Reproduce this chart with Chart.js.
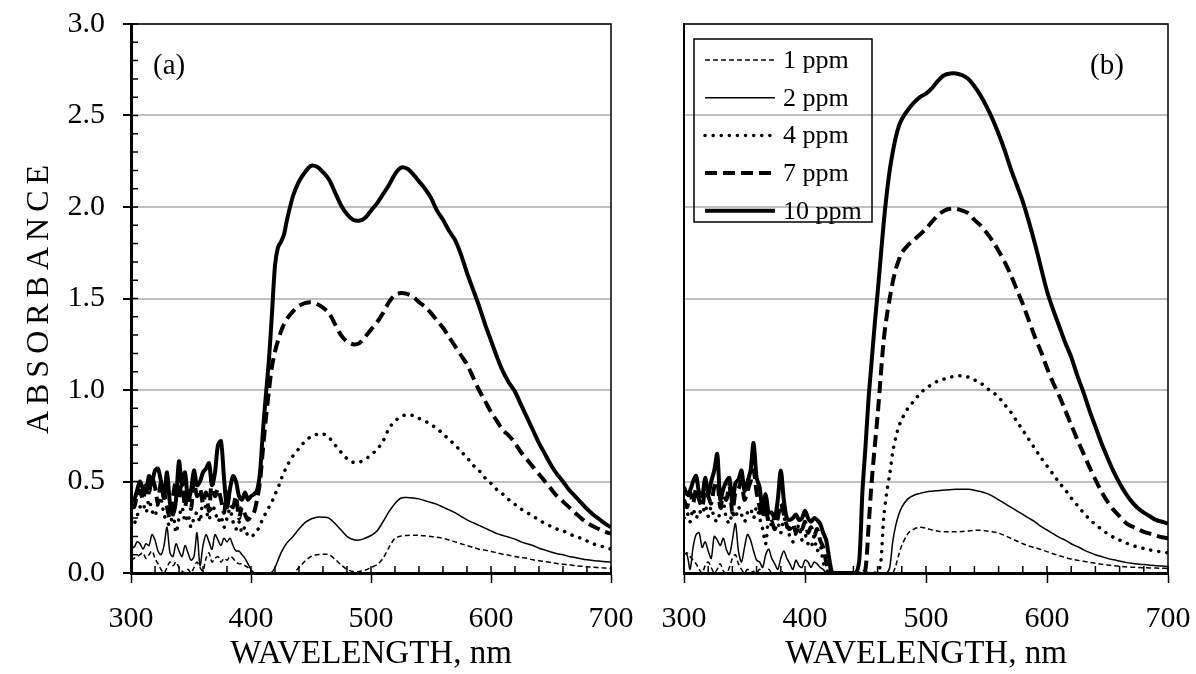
<!DOCTYPE html>
<html>
<head>
<meta charset="utf-8">
<script src="https://cdn.jsdelivr.net/npm/chart.js@4.4.1/dist/chart.umd.min.js"></script>
<style>
  html, body { margin: 0; padding: 0; background: #fff; }
  #wrap { position: relative; width: 1196px; height: 674px; }
  canvas { position: absolute; top: 0; }
  #chartA { left: 0; }
  #chartB { left: 640px; }
</style>
</head>
<body>
<div id="wrap">
  <canvas id="chartA" width="640" height="674"></canvas>
  <canvas id="chartB" width="556" height="674"></canvas>
</div>
<script>
(function(){
  'use strict';

  function range(a, b, step) {
    var out = [];
    for (var v = a; v <= b + 1e-9; v += step) out.push(+v.toFixed(1));
    return out;
  }

  var seriesLabels = ['1 ppm', '2 ppm', '4 ppm', '7 ppm', '10 ppm'];
  var xTicks = [300, 400, 500, 600, 700];
  var yTicks = [0, 0.5, 1.0, 1.5, 2.0, 2.5, 3.0];
  var xMinorStep = 20;
  var yMinorStep = 0.1;

  // panel (a): 300-430 nm every 2.5 nm, then every 5 nm
  var wlA = range(300, 430, 2.5).concat(range(435, 700, 5));

  var a1 = [
    0.07, 0.08, 0.09, 0.10, 0.11, 0.08, 0.10, 0.12, 0.08, 0.05, 0.02, 0,
    0.03, 0.06, 0.04, 0.06, 0.03, 0.01, 0, 0.02, 0, 0.03, 0.06, 0.03,
    0.01, 0.08, 0.11, 0.06, 0.08, 0.09, 0.06, 0.08, 0.07, 0.09, 0.08, 0.06,
    0.05, 0.05, 0.04, 0.03, 0.01, 0, 0, 0, 0, 0, 0, 0,
    0, 0, 0, 0, 0,
    0, 0.03, 0.065, 0.09, 0.10, 0.102, 0.10, 0.075, 0.045, 0.02,
    0.008, 0.008, 0.015, 0.03, 0.045, 0.08, 0.14, 0.19, 0.202, 0.205,
    0.206, 0.206, 0.203, 0.20, 0.195, 0.19, 0.18, 0.17, 0.16, 0.15,
    0.14, 0.13, 0.125, 0.118, 0.11, 0.103, 0.097, 0.09, 0.085, 0.08,
    0.072, 0.067, 0.062, 0.057, 0.052, 0.048, 0.045, 0.04, 0.037, 0.034,
    0.031, 0.029, 0.027, 0.025
  ];
  var a2 = [
    0.15, 0.14, 0.17, 0.16, 0.13, 0.16, 0.15, 0.21, 0.18, 0.12, 0.10, 0.15,
    0.25, 0.11, 0.09, 0.16, 0.12, 0.09, 0.15, 0.11, 0.07, 0.09, 0.22, 0.04,
    0.15, 0.21, 0.17, 0.13, 0.21, 0.18, 0.15, 0.19, 0.17, 0.19, 0.15, 0.12,
    0.12, 0.10, 0.08, 0.05, 0.02, 0, 0, 0, 0, 0, 0, 0.005,
    0.03, 0.07, 0.11, 0.14, 0.165,
    0.20, 0.24, 0.275, 0.295, 0.305, 0.305, 0.30, 0.27, 0.235, 0.20,
    0.183, 0.18, 0.19, 0.205, 0.23, 0.28, 0.335, 0.38, 0.41, 0.412,
    0.41, 0.405, 0.395, 0.385, 0.375, 0.36, 0.345, 0.33, 0.31, 0.29,
    0.275, 0.26, 0.245, 0.23, 0.215, 0.205, 0.195, 0.185, 0.17, 0.16,
    0.15, 0.135, 0.125, 0.115, 0.105, 0.10, 0.09, 0.085, 0.078, 0.072,
    0.068, 0.065, 0.062, 0.06
  ];
  var a4 = [
    0.30, 0.27, 0.31, 0.36, 0.38, 0.33, 0.40, 0.34, 0.31, 0.38, 0.40, 0.32,
    0.28, 0.26, 0.33, 0.22, 0.30, 0.36, 0.28, 0.32, 0.25, 0.30, 0.33, 0.28,
    0.40, 0.35, 0.29, 0.37, 0.34, 0.28, 0.31, 0.25, 0.30, 0.35, 0.28, 0.24,
    0.28, 0.22, 0.25, 0.20, 0.20, 0.21, 0.23, 0.26, 0.30, 0.33, 0.36, 0.39,
    0.43, 0.465, 0.51, 0.55, 0.585,
    0.64, 0.68, 0.72, 0.745, 0.758, 0.76, 0.74, 0.70, 0.66, 0.625,
    0.605, 0.605, 0.62, 0.645, 0.675, 0.72, 0.79, 0.83, 0.855, 0.865,
    0.86, 0.845, 0.83, 0.81, 0.79, 0.76, 0.73, 0.70, 0.665, 0.63,
    0.59, 0.56, 0.52, 0.49, 0.455, 0.43, 0.40, 0.375, 0.35, 0.33,
    0.31, 0.29, 0.27, 0.255, 0.24, 0.23, 0.215, 0.20, 0.19, 0.175,
    0.16, 0.15, 0.14, 0.13
  ];
  var a7 = [
    0.38, 0.36, 0.42, 0.45, 0.40, 0.48, 0.44, 0.52, 0.47, 0.38, 0.50, 0.44,
    0.36, 0.30, 0.42, 0.50, 0.40, 0.53, 0.36, 0.46, 0.35, 0.50, 0.42, 0.46,
    0.38, 0.44, 0.34, 0.52, 0.42, 0.46, 0.40, 0.33, 0.44, 0.38, 0.36, 0.42,
    0.30, 0.36, 0.32, 0.29, 0.31, 0.33, 0.40, 0.50, 0.68, 0.85, 1.00, 1.13,
    1.21, 1.27, 1.32, 1.36, 1.39,
    1.43, 1.46, 1.475, 1.48, 1.47, 1.45, 1.42, 1.36, 1.30, 1.265,
    1.25, 1.255, 1.29, 1.33, 1.37, 1.42, 1.48, 1.52, 1.53, 1.525,
    1.51, 1.48, 1.455, 1.42, 1.38, 1.34, 1.29, 1.24, 1.19, 1.14,
    1.07, 1.00, 0.94, 0.88, 0.83, 0.78, 0.75, 0.71, 0.66, 0.62,
    0.58, 0.54, 0.50, 0.46, 0.42, 0.39, 0.36, 0.33, 0.30, 0.275,
    0.255, 0.24, 0.225, 0.215
  ];
  var a10 = [
    0.41, 0.40, 0.45, 0.50, 0.46, 0.44, 0.53, 0.50, 0.56, 0.57, 0.50, 0.41,
    0.55, 0.38, 0.32, 0.40, 0.61, 0.48, 0.55, 0.40, 0.45, 0.56, 0.48, 0.50,
    0.55, 0.57, 0.60, 0.48, 0.55, 0.70, 0.72, 0.52, 0.36, 0.46, 0.53, 0.50,
    0.42, 0.40, 0.44, 0.40, 0.42, 0.43, 0.45, 0.55, 0.78, 0.98, 1.17, 1.42,
    1.68, 1.78, 1.81, 1.85, 1.93,
    2.06, 2.14, 2.19, 2.225, 2.22, 2.19, 2.15, 2.08, 2.01, 1.96,
    1.93, 1.925, 1.94, 1.98, 2.02, 2.07, 2.12, 2.18, 2.215, 2.21,
    2.18, 2.14, 2.10, 2.05, 1.98, 1.93, 1.87, 1.82, 1.74, 1.64,
    1.55, 1.46, 1.36, 1.27, 1.18, 1.10, 1.04, 0.99, 0.92, 0.85,
    0.78, 0.71, 0.65, 0.59, 0.54, 0.50, 0.455, 0.42, 0.385, 0.35,
    0.32, 0.295, 0.27, 0.25
  ];

  // panel (b): 300-480 nm every 2.5 nm, then every 5 nm
  var wlB = range(300, 480, 2.5).concat(range(485, 700, 5));

  var b1 = [
    0.10, 0.11, 0.09, 0.07, 0.05, 0.02, 0, 0.04, 0.06, 0.03, 0, 0.02,
    0.05, 0.01, 0, 0.03, 0.08, 0.10, 0.05, 0.02, 0, 0.02, 0, 0.01,
    0, 0.02, 0, 0, 0.02, 0, 0, 0, 0.01, 0, 0, 0,
    0, 0, 0, 0, 0, 0, 0, 0, 0, 0, 0, 0,
    0, 0, 0, 0, 0, 0, 0, 0, 0, 0, 0, 0,
    0, 0, 0, 0, 0, 0, 0, 0, 0, 0, 0.04, 0.10, 0.15,
    0.215, 0.24, 0.25, 0.245, 0.235, 0.228, 0.225, 0.225, 0.225, 0.227,
    0.23, 0.233, 0.233, 0.23, 0.225, 0.218, 0.205, 0.19, 0.175, 0.16,
    0.148, 0.138, 0.128, 0.117, 0.105, 0.095, 0.085, 0.076, 0.07, 0.064,
    0.058, 0.053, 0.048, 0.044, 0.04, 0.037, 0.034, 0.032, 0.03, 0.029,
    0.028, 0.027, 0.026, 0.025
  ];
  var b2 = [
    0.11, 0.10, 0.02, 0.14, 0.21, 0.22, 0.14, 0.17, 0.12, 0.08, 0.20, 0.18,
    0.15, 0.19, 0.13, 0.10, 0.18, 0.27, 0.12, 0.06, 0.14, 0.21, 0.18, 0.12,
    0.07, 0.06, 0.03, 0.10, 0.13, 0.08, 0.05, 0.02, 0.08, 0.12, 0.08, 0.05,
    0.02, 0.07, 0.04, 0.03, 0.07, 0.06, 0.03, 0.06, 0.05, 0.03, 0.02, 0,
    0, 0, 0, 0, 0, 0, 0, 0, 0, 0, 0, 0,
    0, 0, 0, 0, 0, 0, 0, 0, 0.03, 0.17, 0.26, 0.32, 0.36,
    0.405, 0.425, 0.435, 0.443, 0.447, 0.45, 0.453, 0.455, 0.457, 0.458,
    0.457, 0.452, 0.445, 0.435, 0.42, 0.40, 0.38, 0.36, 0.34, 0.32,
    0.30, 0.28, 0.255, 0.235, 0.215, 0.195, 0.18, 0.16, 0.145, 0.128,
    0.113, 0.10, 0.09, 0.08, 0.072, 0.065, 0.058, 0.053, 0.049, 0.046,
    0.043, 0.04, 0.038, 0.036
  ];
  var b4 = [
    0.30, 0.33, 0.28, 0.35, 0.30, 0.34, 0.32, 0.37, 0.31, 0.36, 0.30, 0.28,
    0.34, 0.38, 0.30, 0.27, 0.33, 0.30, 0.36, 0.32, 0.28, 0.33, 0.35, 0.30,
    0.36, 0.30, 0.24, 0.16, 0.30, 0.26, 0.32, 0.28, 0.22, 0.30, 0.25, 0.20,
    0.17, 0.22, 0.26, 0.18, 0.21, 0.16, 0.14, 0.20, 0.12, 0.15, 0.06, 0.02,
    0, 0, 0, 0, 0, 0, 0, 0, 0, 0, 0, 0,
    0, 0, 0, 0, 0, 0.05, 0.30, 0.44, 0.54, 0.66, 0.74, 0.80, 0.84,
    0.90, 0.94, 0.98, 1.01, 1.03, 1.05, 1.06, 1.07, 1.075, 1.078,
    1.07, 1.055, 1.04, 1.01, 0.99, 0.96, 0.92, 0.88, 0.83, 0.78,
    0.73, 0.68, 0.63, 0.585, 0.54, 0.495, 0.455, 0.41, 0.37, 0.33,
    0.295, 0.265, 0.24, 0.215, 0.195, 0.18, 0.165, 0.152, 0.142, 0.134,
    0.126, 0.12, 0.114, 0.11
  ];
  var b7 = [
    0.40, 0.36, 0.44, 0.38, 0.46, 0.40, 0.36, 0.45, 0.42, 0.38, 0.47, 0.50,
    0.36, 0.42, 0.40, 0.48, 0.33, 0.44, 0.46, 0.50, 0.40, 0.45, 0.50, 0.56,
    0.44, 0.36, 0.30, 0.38, 0.27, 0.28, 0.24, 0.30, 0.38, 0.32, 0.26, 0.24,
    0.27, 0.22, 0.26, 0.24, 0.28, 0.22, 0.25, 0.20, 0.24, 0.18, 0.14, 0.06,
    0, 0, 0, 0, 0, 0, 0, 0, 0, 0, 0, 0,
    0.02, 0.25, 0.49, 0.68, 0.86, 1.07, 1.27, 1.40, 1.50, 1.59, 1.66, 1.71, 1.75,
    1.79, 1.82, 1.85, 1.88, 1.92, 1.955, 1.98, 1.99, 1.99, 1.98,
    1.965, 1.93, 1.90, 1.86, 1.815, 1.76, 1.70, 1.63, 1.55, 1.47,
    1.38, 1.29, 1.21, 1.12, 1.04, 0.97, 0.89, 0.81, 0.73, 0.655,
    0.58, 0.51, 0.445, 0.39, 0.345, 0.31, 0.275, 0.255, 0.24, 0.225,
    0.215, 0.205, 0.195, 0.19
  ];
  var b10 = [
    0.47, 0.43, 0.45, 0.50, 0.53, 0.44, 0.42, 0.52, 0.43, 0.50, 0.56, 0.65,
    0.40, 0.46, 0.50, 0.52, 0.38, 0.49, 0.51, 0.56, 0.45, 0.50, 0.56, 0.71,
    0.52, 0.47, 0.34, 0.43, 0.33, 0.33, 0.30, 0.40, 0.56, 0.40, 0.30, 0.29,
    0.30, 0.32, 0.29, 0.30, 0.34, 0.30, 0.28, 0.30, 0.29, 0.27, 0.22, 0.18,
    0.08, 0, 0, 0, 0, 0, 0, 0, 0, 0, 0.08, 0.45,
    0.69, 0.95, 1.15, 1.35, 1.53, 1.72, 1.91, 2.07, 2.20, 2.30, 2.38, 2.44, 2.48,
    2.53, 2.57, 2.60, 2.62, 2.65, 2.69, 2.72, 2.73, 2.73, 2.72,
    2.70, 2.66, 2.61, 2.55, 2.48, 2.40, 2.31, 2.21, 2.12, 2.03,
    1.92, 1.80, 1.67, 1.54, 1.44, 1.35, 1.26, 1.18, 1.08, 0.99,
    0.89, 0.80, 0.71, 0.63, 0.555, 0.49, 0.435, 0.39, 0.355, 0.33,
    0.31, 0.29, 0.28, 0.27
  ];

  var FONT = 'Liberation Serif';
  Chart.defaults.font.family = FONT;
  Chart.defaults.color = '#000';

  var lineStyles = [
    { borderWidth: 1.5, borderDash: [5, 3] },
    { borderWidth: 1.5, borderDash: [] },
    { borderWidth: 3.5, borderDash: [0.1, 8], borderCapStyle: 'round' },
    { borderWidth: 4, borderDash: [12, 6] },
    { borderWidth: 4, borderDash: [] }
  ];

  function toPoints(wl, vals) {
    return wl.map(function(x, i) { return { x: x, y: vals[i] }; });
  }

  function noPad(s) {
    s.paddingTop = 0; s.paddingBottom = 0; s.paddingLeft = 0; s.paddingRight = 0;
  }

  var framePlugin = {
    id: 'frame',
    afterDraw: function(chart, args, o) {
      var ctx = chart.ctx, a = chart.chartArea;
      var xs = chart.scales.x, ys = chart.scales.y;
      ctx.save();
      ctx.strokeStyle = '#000';
      ctx.lineWidth = 1.5;
      ctx.beginPath();
      ctx.moveTo(a.left, a.top);
      ctx.lineTo(a.right, a.top);
      ctx.lineTo(a.right, a.bottom);
      ctx.stroke();

      // inward minor ticks
      ctx.beginPath();
      for (var v = xs.min; v <= xs.max + 1e-9; v += xMinorStep) {
        var px = xs.getPixelForValue(v);
        ctx.moveTo(px, a.bottom);
        ctx.lineTo(px, a.bottom - 7);
      }
      if (o.minorY) {
        for (var k = 0; k * yMinorStep <= ys.max + 1e-9; k++) {
          var py = ys.getPixelForValue(k * yMinorStep);
          ctx.moveTo(a.left, py);
          ctx.lineTo(a.left + 7, py);
        }
      }
      ctx.stroke();

      // panel label
      ctx.fillStyle = '#000';
      ctx.font = '29px "' + FONT + '"';
      ctx.textBaseline = 'middle';
      ctx.textAlign = 'left';
      ctx.fillText(o.label, o.labelLeft ? a.left + 22 : a.right - 78, a.top + 42);

      // y axis title
      if (o.yTitle) {
        ctx.save();
        ctx.translate(40, (a.top + a.bottom) / 2 - 2);
        ctx.rotate(-Math.PI / 2);
        ctx.textAlign = 'center';
        ctx.font = '32px "' + FONT + '"';
        if ('letterSpacing' in ctx) ctx.letterSpacing = '6px';
        ctx.fillText(o.yTitle, 0, 0);
        ctx.restore();
      }

      // legend box
      if (o.legend) {
        var bx = a.left + 10, by = a.top + 15, bw = 178, bh = 183;
        ctx.lineWidth = 1.5;
        ctx.setLineDash([]);
        ctx.strokeRect(bx, by, bw, bh);
        ctx.font = '26px "' + FONT + '"';
        chart.data.datasets.forEach(function(ds, i) {
          var ry = by + 21 + i * 37.7;
          ctx.save();
          ctx.lineWidth = ds.borderWidth;
          ctx.setLineDash(ds.borderDash || []);
          ctx.lineCap = ds.borderCapStyle || 'butt';
          ctx.beginPath();
          ctx.moveTo(bx + 11, ry);
          ctx.lineTo(bx + 81, ry);
          ctx.stroke();
          ctx.restore();
          ctx.fillText(ds.label, bx + 89, ry + 1);
        });
      }
      ctx.restore();
    }
  };

  function makeChart(id, wl, series, opts) {
    var datasets = series.map(function(vals, i) {
      var st = lineStyles[i];
      return {
        label: seriesLabels[i],
        data: toPoints(wl, vals),
        borderColor: '#000',
        borderWidth: st.borderWidth,
        borderDash: st.borderDash,
        borderCapStyle: st.borderCapStyle || 'butt',
        borderJoinStyle: 'round',
        pointRadius: 0,
        tension: 0.3,
        fill: false,
        order: series.length - i
      };
    });

    return new Chart(document.getElementById(id), {
      type: 'line',
      data: { datasets: datasets },
      options: {
        responsive: false,
        animation: false,
        events: [],
        layout: { padding: { left: 0, top: 24, right: opts.padRight, bottom: 0 } },
        plugins: {
          legend: { display: false },
          tooltip: { enabled: false },
          frame: opts.frame
        },
        scales: {
          x: {
            type: 'linear',
            min: xTicks[0],
            max: xTicks[xTicks.length - 1],
            afterBuildTicks: function(s) { s.ticks = xTicks.map(function(v) { return { value: v }; }); },
            afterFit: function(s) { s.height = 101; noPad(s); },
            ticks: { font: { size: 30 }, color: '#000', padding: 18, maxRotation: 0 },
            grid: { drawOnChartArea: false, drawTicks: true, tickLength: 10, tickColor: '#000', tickWidth: 1.5 },
            border: { color: '#000', width: 3 },
            title: { display: true, text: 'WAVELENGTH, nm', font: { size: 33 }, color: '#000', padding: { top: 0, bottom: 0 } }
          },
          y: {
            min: yTicks[0],
            max: yTicks[yTicks.length - 1],
            afterBuildTicks: function(s) { s.ticks = yTicks.map(function(v) { return { value: v }; }); },
            afterFit: function(s) { s.width = opts.yWidth; noPad(s); },
            ticks: {
              display: opts.yLabels,
              font: { size: 30 },
              color: '#000',
              padding: 18,
              callback: function(v) { return v.toFixed(1); }
            },
            grid: {
              color: '#c0c0c0', lineWidth: 2,
              drawTicks: opts.yLabels, tickLength: 8, tickColor: '#000', tickWidth: 2
            },
            border: { color: '#000', width: opts.yBorder }
          }
        }
      },
      plugins: [framePlugin]
    });
  }

  makeChart('chartA', wlA, [a1, a2, a4, a7, a10], {
    padRight: 29, yWidth: 131, yLabels: true, yBorder: 3,
    frame: { label: '(a)', labelLeft: true, minorY: true, yTitle: 'ABSORBANCE', legend: false }
  });

  makeChart('chartB', wlB, [b1, b2, b4, b7, b10], {
    padRight: 28, yWidth: 44, yLabels: false, yBorder: 2,
    frame: { label: '(b)', labelLeft: false, minorY: false, yTitle: null, legend: true }
  });
}());
</script>
</body>
</html>
